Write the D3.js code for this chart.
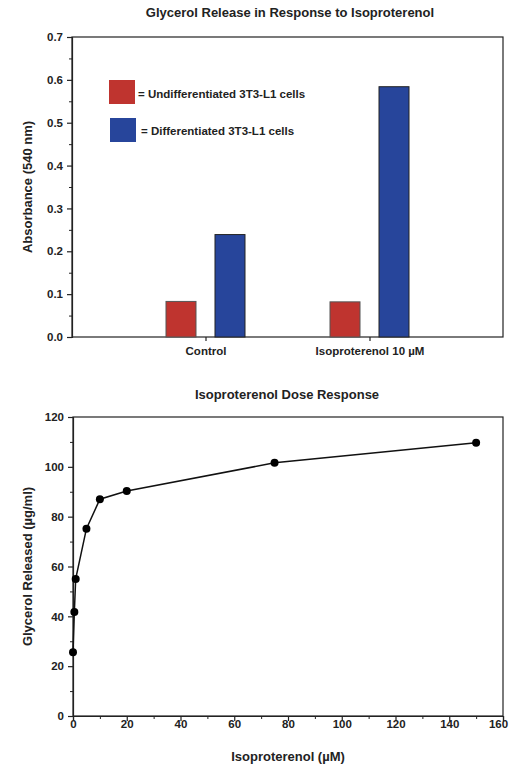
<!DOCTYPE html>
<html lang="en">
<head>
    <meta charset="UTF-8">
    <title>Glycerol Release</title>
    <script src="https://d3js.org/d3.v7.min.js"></script>
    <style>
        body {
            margin: 0;
            padding: 0;
            background-color: #fff;
            font-family: "Liberation Sans", Arial, sans-serif;
        }
        svg text {
            font-weight: bold;
            fill: #222;
        }
    </style>
</head>
<body>
    <svg id="chart" width="512" height="766"></svg>

    <script>
        // Top chart data
        const categories = ['Control', 'Isoproterenol 10 \u00b5M'];
        const seriesNames = ['Undifferentiated 3T3-L1 cells', 'Differentiated 3T3-L1 cells'];
        const seriesColors = ['#bf342f', '#27459b'];
        const seriesStrokes = ['#555', '#222'];
        const undiffValues = [0.083, 0.082];
        const diffValues = [0.239, 0.584];
        const absTicks = [0, 0.1, 0.2, 0.3, 0.4, 0.5, 0.6, 0.7];

        // Bottom chart data
        const doses = [0, 0.5, 1, 5, 10, 20, 75, 150];
        const glycerol = [25.6, 41.7, 55.0, 75.2, 87.0, 90.3, 101.6, 109.7];
        const doseTicks = [0, 20, 40, 60, 80, 100, 120, 140, 160];
        const glyTicks = [0, 20, 40, 60, 80, 100, 120];

        const svg = d3.select('#chart');
        const ink = '#222';
        const tickFont = 11.5;
        const titleFont = 13;

        // ---------- top: bar chart ----------
        const box1 = { left: 72, right: 503, top: 37, bottom: 337 };
        const g1 = svg.append('g');

        svg.append('text')
            .attr('x', 290).attr('y', 17)
            .attr('text-anchor', 'middle')
            .attr('font-size', titleFont)
            .text('Glycerol Release in Response to Isoproterenol');

        const yAbs = d3.scaleLinear().domain([0, 0.7]).range([box1.bottom, box1.top]);
        const xCat = d3.scalePoint().domain(categories).range([box1.left, box1.right]).padding(0.814);
        const barW = 30;
        const barGap = 19;

        // frame
        g1.append('rect')
            .attr('x', box1.left).attr('y', box1.top)
            .attr('width', box1.right - box1.left).attr('height', box1.bottom - box1.top)
            .attr('fill', 'none').attr('stroke', ink).attr('stroke-width', 1.2);

        // minor y ticks
        g1.append('g')
            .attr('transform', `translate(${box1.left},0)`)
            .call(d3.axisLeft(yAbs).tickValues(d3.range(0.05, 0.7, 0.1)).tickSize(3).tickFormat(''))
            .call(a => a.select('.domain').remove())
            .selectAll('line').attr('stroke', ink);

        const yAxis1 = g1.append('g')
            .attr('transform', `translate(${box1.left},0)`)
            .call(d3.axisLeft(yAbs).tickValues(absTicks).tickSize(5).tickPadding(4).tickFormat(d3.format('.1f')));
        yAxis1.select('.domain').attr('stroke', ink).attr('stroke-width', 1.2);
        yAxis1.selectAll('line').attr('stroke', ink).attr('stroke-width', 1.2);
        yAxis1.selectAll('text').attr('font-size', tickFont).attr('font-family', 'Liberation Sans, Arial, sans-serif');

        const xAxis1 = g1.append('g')
            .attr('transform', `translate(0,${box1.bottom})`)
            .call(d3.axisBottom(xCat).tickSize(4).tickPadding(6));
        xAxis1.select('.domain').remove();
        xAxis1.selectAll('line').attr('stroke', ink).attr('stroke-width', 1.2);
        xAxis1.selectAll('text').attr('font-size', tickFont).attr('font-family', 'Liberation Sans, Arial, sans-serif');

        const bars = [];
        categories.forEach((c, i) => {
            bars.push({ cat: c, s: 0, v: undiffValues[i] });
            bars.push({ cat: c, s: 1, v: diffValues[i] });
        });

        g1.selectAll('.bar')
            .data(bars)
            .enter()
            .append('rect')
            .attr('class', 'bar')
            .attr('x', d => xCat(d.cat) + (d.s === 0 ? -(barGap / 2 + barW) : barGap / 2))
            .attr('y', d => yAbs(d.v))
            .attr('width', barW)
            .attr('height', d => yAbs(0) - yAbs(d.v))
            .attr('fill', d => seriesColors[d.s])
            .attr('stroke', d => seriesStrokes[d.s])
            .attr('stroke-width', 1);

        // legend
        const legend = g1.selectAll('.legend')
            .data(seriesNames)
            .enter()
            .append('g')
            .attr('class', 'legend')
            .attr('transform', (d, i) => `translate(${109 + i},${80 + i * 38})`);
        legend.append('rect')
            .attr('width', 26).attr('height', 24)
            .attr('fill', (d, i) => seriesColors[i]);
        legend.append('text')
            .attr('x', (d, i) => 29 + i * 2).attr('y', (d, i) => 18 - i)
            .attr('font-size', tickFont)
            .text(d => '= ' + d);

        svg.append('text')
            .attr('transform', `translate(32,${(box1.top + box1.bottom) / 2}) rotate(-90)`)
            .attr('text-anchor', 'middle')
            .attr('font-size', titleFont)
            .text('Absorbance (540 nm)');

        // ---------- bottom: dose response ----------
        const box2 = { left: 73, right: 503, top: 417, bottom: 716 };
        const g2 = svg.append('g');

        svg.append('text')
            .attr('x', 287).attr('y', 399)
            .attr('text-anchor', 'middle')
            .attr('font-size', titleFont)
            .text('Isoproterenol Dose Response');

        const xDose = d3.scaleLinear().domain([0, 160]).range([box2.left, box2.right]);
        const yGly = d3.scaleLinear().domain([0, 120]).range([box2.bottom, box2.top]);

        g2.append('rect')
            .attr('x', box2.left).attr('y', box2.top)
            .attr('width', box2.right - box2.left).attr('height', box2.bottom - box2.top)
            .attr('fill', 'none').attr('stroke', ink).attr('stroke-width', 1.2);

        g2.append('g')
            .attr('transform', `translate(${box2.left},0)`)
            .call(d3.axisLeft(yGly).tickValues(d3.range(10, 120, 20)).tickSize(3).tickFormat(''))
            .call(a => a.select('.domain').remove())
            .selectAll('line').attr('stroke', ink);

        g2.append('g')
            .attr('transform', `translate(0,${box2.bottom})`)
            .call(d3.axisBottom(xDose).tickValues(d3.range(10, 160, 20)).tickSize(3).tickFormat(''))
            .call(a => a.select('.domain').remove())
            .selectAll('line').attr('stroke', ink);

        const yAxis2 = g2.append('g')
            .attr('transform', `translate(${box2.left},0)`)
            .call(d3.axisLeft(yGly).tickValues(glyTicks).tickSize(5).tickPadding(4));
        yAxis2.select('.domain').attr('stroke', ink).attr('stroke-width', 1.2);
        yAxis2.selectAll('line').attr('stroke', ink).attr('stroke-width', 1.2);
        yAxis2.selectAll('text').attr('font-size', tickFont).attr('font-family', 'Liberation Sans, Arial, sans-serif');

        const xAxis2 = g2.append('g')
            .attr('transform', `translate(0,${box2.bottom})`)
            .call(d3.axisBottom(xDose).tickValues(doseTicks).tickSize(5).tickPadding(-1));
        xAxis2.select('.domain').attr('stroke', ink).attr('stroke-width', 1.2);
        xAxis2.selectAll('line').attr('stroke', ink).attr('stroke-width', 1.2);
        xAxis2.selectAll('text')
            .attr('font-size', tickFont)
            .attr('font-family', 'Liberation Sans, Arial, sans-serif')
            .attr('dx', d => d === 160 ? -5 : 0);

        const pts = doses.map((d, i) => ({ x: d, y: glycerol[i] }));
        const line = d3.line().x(d => xDose(d.x)).y(d => yGly(d.y));

        g2.append('path')
            .datum(pts)
            .attr('d', line)
            .attr('fill', 'none')
            .attr('stroke', '#111')
            .attr('stroke-width', 1.5);

        g2.selectAll('.pt')
            .data(pts)
            .enter()
            .append('circle')
            .attr('class', 'pt')
            .attr('cx', d => xDose(d.x))
            .attr('cy', d => yGly(d.y))
            .attr('r', 4)
            .attr('fill', '#000');

        svg.append('text')
            .attr('x', 288).attr('y', 761)
            .attr('text-anchor', 'middle')
            .attr('font-size', titleFont)
            .text('Isoproterenol (\u00b5M)');

        svg.append('text')
            .attr('transform', `translate(32,${(box2.top + box2.bottom) / 2}) rotate(-90)`)
            .attr('text-anchor', 'middle')
            .attr('font-size', titleFont)
            .text('Glycerol Released (\u00b5g/ml)');
    </script>
</body>
</html>
